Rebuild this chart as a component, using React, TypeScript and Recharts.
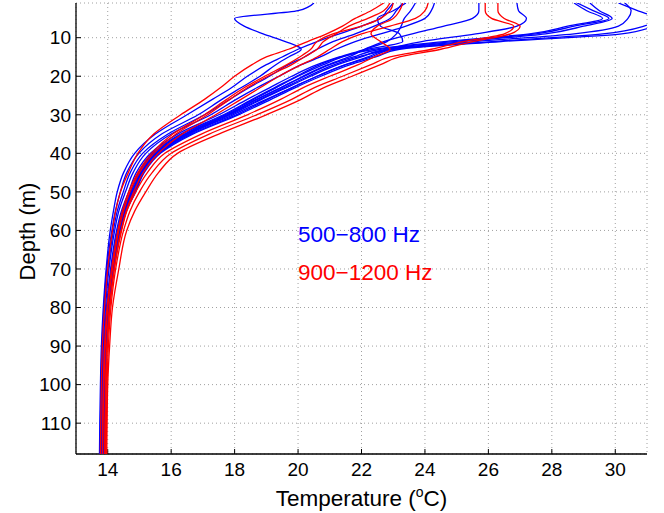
import { ScatterChart, Scatter, XAxis, YAxis, CartesianGrid, ReferenceDot } from 'recharts';

// depth levels (m) shared by every profile
const depths = [1, 3, 5, 7, 9, 11, 13, 15, 17, 20, 23, 26, 30, 35, 40, 45, 50, 55, 60, 70, 80, 90, 100, 110, 118];

// 500-800 Hz profiles, temperature (C) at each depth
const blueLoop = [20.5, 20.0, 18.0, 18.3, 18.9, 19.6, 20.1, 19.7, 19.3, 18.8, 18.2, 17.6, 16.85, 15.7, 14.98, 14.6, 14.4, 14.24, 14.13, 13.97, 13.88, 13.82, 13.79, 13.77, 13.76];
const blueA = [23.7, 23.55, 23.35, 23.25, 23.1, 22.8, 22.1, 21.3, 20.6, 19.8, 19.1, 18.4, 17.5, 16.2, 15.35, 14.9, 14.66, 14.43, 14.28, 14.09, 13.96, 13.89, 13.86, 13.84, 13.83];
const blueB = [24.3, 24.2, 24.0, 23.4, 22.6, 21.8, 21.2, 20.7, 20.1, 19.4, 18.7, 18.05, 17.25, 16.0, 15.2, 14.8, 14.56, 14.35, 14.22, 14.04, 13.93, 13.86, 13.83, 13.81, 13.8];
const blueC = [25.7, 25.7, 25.5, 24.6, 23.6, 22.7, 22.1, 21.6, 20.95, 20.15, 19.45, 18.7, 17.8, 16.45, 15.5, 15.03, 14.77, 14.5, 14.34, 14.13, 14.0, 13.92, 13.89, 13.87, 13.86];
const blueD = [26.9, 26.95, 27.2, 26.9, 25.6, 23.9, 22.8, 22.2, 21.5, 20.6, 19.8, 19.0, 17.95, 16.55, 15.6, 15.12, 14.86, 14.56, 14.39, 14.17, 14.03, 13.95, 13.92, 13.9, 13.89];
const blueE = [23.4, 23.0, 22.5, 22.6, 23.2, 23.3, 22.2, 21.4, 20.8, 20.0, 19.3, 18.6, 17.7, 16.35, 15.45, 14.99, 14.74, 14.48, 14.32, 14.12, 13.99, 13.91, 13.88, 13.86, 13.85];
const blueF = [23.0, 22.8, 22.6, 22.0, 21.3, 20.6, 20.0, 19.5, 19.0, 18.4, 17.9, 17.3, 16.5, 15.5, 14.85, 14.5, 14.3, 14.18, 14.08, 13.95, 13.86, 13.8, 13.77, 13.75, 13.74];
const blueG = [23.3, 23.1, 22.9, 22.4, 21.8, 21.1, 20.6, 20.2, 19.7, 19.1, 18.45, 17.85, 17.05, 15.9, 15.1, 14.71, 14.49, 14.3, 14.18, 14.01, 13.9, 13.84, 13.81, 13.79, 13.78];
const warm1 = [28.7, 29.1, 29.6, 28.5, 27.3, 24.6, 22.4, 21.35, 20.7, 19.95, 19.25, 18.55, 17.65, 16.3, 15.42, 14.97, 14.72, 14.46, 14.31, 14.11, 13.98, 13.9, 13.87, 13.85, 13.84];
const warm2 = [28.8, 29.3, 29.8, 28.7, 27.5, 24.9, 22.6, 21.75, 21.0, 20.2, 19.45, 18.7, 17.75, 16.42, 15.5, 15.04, 14.78, 14.51, 14.35, 14.14, 14.0, 13.92, 13.89, 13.87, 13.86];
const warm3 = [29.2, 29.5, 29.9, 29.0, 27.8, 25.2, 22.8, 22.0, 21.25, 20.4, 19.62, 18.85, 17.88, 16.52, 15.56, 15.08, 14.82, 14.54, 14.37, 14.16, 14.02, 13.94, 13.91, 13.89, 13.88];
const warm4 = [30.1, 30.7, 31.3, 30.9, 29.6, 26.1, 23.0, 22.3, 21.5, 20.6, 19.8, 19.05, 18.05, 16.62, 15.62, 15.12, 14.86, 14.57, 14.4, 14.18, 14.04, 13.96, 13.93, 13.91, 13.9];
const warm5 = [31.8, 31.8, 31.5, 31.2, 30.2, 26.4, 23.2, 22.45, 21.65, 20.72, 19.9, 19.15, 18.12, 16.68, 15.66, 15.15, 14.88, 14.59, 14.42, 14.19, 14.05, 13.97, 13.94, 13.92, 13.91];
const warm6 = [30.3, 30.5, 30.4, 30.1, 28.7, 25.6, 23.0, 21.9, 21.15, 20.32, 19.55, 18.8, 17.82, 16.47, 15.53, 15.06, 14.8, 14.52, 14.36, 14.15, 14.01, 13.93, 13.9, 13.88, 13.87];

// 900-1200 Hz profiles
const red1 = [22.7, 22.3, 21.8, 21.4, 20.9, 20.3, 19.7, 19.0, 18.55, 18.0, 17.55, 17.05, 16.3, 15.45, 14.95, 14.65, 14.4, 14.25, 14.15, 14.0, 13.9, 13.83, 13.8, 13.78, 13.77];
const red2 = [22.9, 22.7, 22.2, 21.6, 21.2, 20.8, 20.6, 20.2, 19.8, 19.05, 18.4, 17.85, 17.15, 16.15, 15.45, 15.0, 14.7, 14.5, 14.35, 14.15, 14.0, 13.92, 13.88, 13.85, 13.84];
const red3 = [23.0, 22.9, 22.6, 22.0, 21.1, 20.6, 20.4, 20.05, 19.65, 18.95, 18.3, 17.75, 17.05, 16.05, 15.38, 14.95, 14.66, 14.46, 14.32, 14.12, 13.98, 13.9, 13.86, 13.84, 13.83];
const red4 = [24.1, 24.0, 23.7, 22.9, 22.0, 21.4, 21.0, 20.6, 20.1, 19.4, 18.8, 18.2, 17.4, 16.35, 15.6, 15.12, 14.82, 14.58, 14.42, 14.2, 14.05, 13.97, 13.93, 13.91, 13.9];
const red5 = [25.9, 25.9, 26.1, 26.8, 26.5, 25.2, 24.2, 22.9, 22.3, 21.4, 20.5, 19.8, 18.7, 17.2, 16.0, 15.4, 15.0, 14.7, 14.5, 14.25, 14.1, 14.02, 13.98, 13.96, 13.95];
const red6 = [26.3, 26.3, 26.5, 27.0, 26.7, 25.5, 24.5, 23.2, 22.6, 21.7, 20.8, 20.1, 19.0, 17.5, 16.2, 15.6, 15.2, 14.85, 14.6, 14.35, 14.15, 14.06, 14.0, 13.98, 13.97];
const red7 = [23.3, 23.2, 23.0, 22.5, 22.3, 22.6, 22.9, 22.4, 21.9, 21.0, 20.15, 19.45, 18.4, 16.95, 15.8, 15.25, 14.88, 14.6, 14.44, 14.21, 14.07, 13.99, 13.95, 13.93, 13.92];

const blueProfiles = [blueLoop, blueA, blueB, blueC, blueD, blueE, blueF, blueG, warm1, warm2, warm3, warm4, warm5, warm6];
const redProfiles = [red1, red2, red3, red4, red5, red6, red7];

const tempTicks = [14, 16, 18, 20, 22, 24, 26, 28, 30];
const depthTicks = [10, 20, 30, 40, 50, 60, 70, 80, 90, 100, 110];

const toPoints = (temps: number[]) => temps.map((t, i) => ({ t, d: depths[i] }));

const FONT = '"Liberation Sans", Arial, Helvetica, sans-serif';
const noShape = () => null;

const XTitle = (props: any) => {
  const vb = props.viewBox || {};
  return (
    <text x={vb.x + vb.width / 2} y={vb.y + 52} textAnchor="middle" fontFamily={FONT} fontSize={22.5} fill="#000">
      Temperature (<tspan dy={-9} fontSize={14}>o</tspan><tspan dy={9}>C)</tspan>
    </text>
  );
};

const YTitle = (props: any) => {
  const vb = props.viewBox || {};
  const cx = vb.x + 35;
  const cy = vb.y + vb.height / 2 + 3;
  return (
    <text x={cx} y={cy} transform={`rotate(-90, ${cx}, ${cy})`} textAnchor="middle" fontFamily={FONT} fontSize={22} fill="#000">
      Depth (m)
    </text>
  );
};

const noteLabel = (text: string, color: string) => (props: any) => {
  const vb = props.viewBox || {};
  return (
    <text x={vb.x} y={vb.y} dy="0.35em" fontFamily={FONT} fontSize={22.5} fill={color}>
      {text}
    </text>
  );
};

export default function App() {
  const tickStyle = { fontFamily: FONT, fontSize: 19, fill: '#000' };
  return (
    <div style={{ position: 'absolute', left: 0, top: 0, background: '#fff' }}>
      <ScatterChart width={664} height={513} margin={{ top: 3, right: 17, bottom: 0, left: 0 }}>
        <CartesianGrid stroke="#a0a0a0" strokeDasharray="1 3" />
        <XAxis
          type="number"
          dataKey="t"
          domain={[13, 31]}
          ticks={tempTicks}
          allowDataOverflow
          height={59}
          tickSize={-5}
          tickMargin={14}
          tick={tickStyle}
          stroke="#000"
          axisLine={{ stroke: '#000', strokeWidth: 1.3 }}
          label={XTitle}
        />
        <XAxis
          xAxisId="top"
          orientation="top"
          type="number"
          domain={[13, 31]}
          ticks={tempTicks}
          height={0}
          tickSize={-5}
          tickFormatter={() => ''}
          stroke="#000"
          axisLine={{ stroke: '#000', strokeWidth: 1.3 }}
        />
        <YAxis
          type="number"
          dataKey="d"
          domain={[1, 118]}
          ticks={depthTicks}
          reversed
          allowDataOverflow
          width={76}
          tickSize={-5}
          tickMargin={10}
          tick={tickStyle}
          stroke="#000"
          axisLine={{ stroke: '#000', strokeWidth: 1.3 }}
          label={YTitle}
        />
        <YAxis
          yAxisId="right"
          orientation="right"
          type="number"
          domain={[1, 118]}
          ticks={depthTicks}
          reversed
          width={0}
          tickSize={-5}
          tickFormatter={() => ''}
          stroke="#000"
          axisLine={{ stroke: '#000', strokeWidth: 1.3 }}
        />
        {blueProfiles.map((p, i) => (
          <Scatter
            key={`b${i}`}
            data={toPoints(p)}
            fill="#0000ff"
            line={{ stroke: '#0000ff', strokeWidth: 1.3 }}
            lineJointType="monotoneY"
            shape={noShape}
            isAnimationActive={false}
          />
        ))}
        {redProfiles.map((p, i) => (
          <Scatter
            key={`r${i}`}
            data={toPoints(p)}
            fill="#ff0000"
            line={{ stroke: '#ff0000', strokeWidth: 1.3 }}
            lineJointType="monotoneY"
            shape={noShape}
            isAnimationActive={false}
          />
        ))}
        <ReferenceDot x={20} y={61} r={0} fill="none" stroke="none" label={noteLabel('500−800 Hz', '#0000ff')} />
        <ReferenceDot x={20} y={70.7} r={0} fill="none" stroke="none" label={noteLabel('900−1200 Hz', '#ff0000')} />
      </ScatterChart>
    </div>
  );
}
